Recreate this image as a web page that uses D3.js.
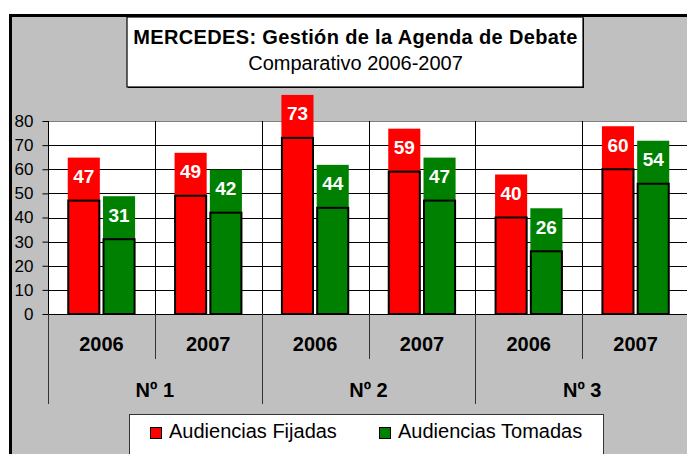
<!DOCTYPE html>
<html><head><meta charset="utf-8">
<script src="https://cdn.jsdelivr.net/npm/d3@7"></script>
<style>
html,body{margin:0;padding:0;background:#fff;overflow:hidden;}
svg{display:block;font-family:"Liberation Sans",Arial,sans-serif;}
</style></head>
<body>
<svg id="chart" width="687" height="454"></svg>
<script>
const titleText = "MERCEDES: Gestión de la Agenda de Debate";
const subtitleText = "Comparativo 2006-2007";
const years = ["2006","2007","2006","2007","2006","2007"];
const groups = ["Nº 1","Nº 2","Nº 3"];
const seriesNames = ["Audiencias Fijadas","Audiencias Tomadas"];
const seriesColors = ["#ff0000","#008000"];
const fijadas = [47,49,73,59,40,60];
const tomadas = [31,42,44,47,26,54];
const yTicks = [0,10,20,30,40,50,60,70,80];

const svg = d3.select("#chart");
const plot = {left:48, right:689, top:121, bottom:314};

// outer chart area
svg.append("rect").attr("x",10.5).attr("y",15.5).attr("width",700).attr("height",460)
  .attr("fill","#c0c0c0").attr("stroke","#000").attr("stroke-width",3);

// title box
svg.append("rect").attr("x",128).attr("y",18).attr("width",456).attr("height",70)
  .attr("fill","#000");
svg.append("rect").attr("x",127).attr("y",17).attr("width",456).attr("height",70)
  .attr("fill","#fff").attr("stroke","#000").attr("stroke-width",1.2);
svg.append("text").attr("x",355.5).attr("y",44).attr("text-anchor","middle")
  .attr("font-size",20).attr("font-weight","bold").attr("letter-spacing",0.35).text(titleText);
svg.append("text").attr("x",355.5).attr("y",70).attr("text-anchor","middle")
  .attr("font-size",20).text(subtitleText);

const cats = d3.range(years.length);
const x0 = d3.scaleBand().domain(cats).range([plot.left, plot.right]).padding(0);
const x1 = d3.scaleBand().domain([0,1]).range([0, x0.bandwidth()]).paddingInner(0.09).paddingOuter(0.56);
const y = d3.scaleLinear().domain([0,80]).range([plot.bottom, plot.top]);

// plot background
svg.append("rect").attr("x",plot.left).attr("y",plot.top).attr("width",plot.right-plot.left)
  .attr("height",plot.bottom-plot.top).attr("fill","#fff");

// horizontal gridlines
svg.append("g").selectAll("line").data(yTicks).join("line")
  .attr("x1",plot.left).attr("x2",plot.right)
  .attr("y1",d=>Math.round(y(d))+0.5).attr("y2",d=>Math.round(y(d))+0.5)
  .attr("stroke",d=>d===80?"#808080":"#000").attr("stroke-width",1);

// vertical category lines in plot
svg.append("g").selectAll("line").data(cats.slice(1)).join("line")
  .attr("x1",d=>Math.round(x0(d))+0.5).attr("x2",d=>Math.round(x0(d))+0.5)
  .attr("y1",plot.top).attr("y2",plot.bottom).attr("stroke","#000");

// y axis
const yAxis = svg.append("g").attr("transform",`translate(${plot.left+0.5},0)`)
  .call(d3.axisLeft(y).tickValues(yTicks).tickSize(6).tickPadding(9).tickFormat(d3.format("d")));
yAxis.select(".domain").attr("stroke","#000").attr("d",`M0,${plot.top}V${plot.bottom}`);
yAxis.selectAll(".tick line").attr("stroke","#000");
yAxis.selectAll(".tick text").attr("font-size",17).attr("fill","#000")
  .attr("font-family","'Liberation Sans',Arial,sans-serif");

// category axis: baseline
svg.append("line").attr("x1",plot.left).attr("x2",plot.right).attr("y1",plot.bottom+0.5).attr("y2",plot.bottom+0.5)
  .attr("stroke","#000");
// ticks between years and groups
const bounds = d3.range(years.length+1);
svg.append("g").selectAll("line").data(bounds).join("line")
  .attr("x1",d=>Math.round(d<years.length?x0(d):plot.right)+0.5)
  .attr("x2",d=>Math.round(d<years.length?x0(d):plot.right)+0.5)
  .attr("y1",plot.bottom).attr("y2",d=>d%2===0?404:359)
  .attr("stroke","#333").attr("stroke-width",1);

svg.append("g").selectAll("text").data(years).join("text")
  .attr("x",(d,i)=>x0(i)+x0.bandwidth()/2).attr("y",351).attr("text-anchor","middle")
  .attr("font-size",20).attr("font-weight","bold").text(d=>d);
svg.append("g").selectAll("text").data(groups).join("text")
  .attr("x",(d,i)=>x0(i*2)+x0.bandwidth()).attr("y",397).attr("text-anchor","middle")
  .attr("font-size",20).attr("font-weight","bold").text(d=>d);

// bars and labels
const seriesData = [fijadas, tomadas];
const barsG = svg.append("g");
seriesData.forEach((vals, s) => {
  const g = barsG.append("g");
  // label boxes
  g.selectAll("rect.lbl").data(vals).join("rect").attr("class","lbl")
    .attr("x",(d,i)=>x0(i)+x1(s)).attr("width",x1.bandwidth())
    .attr("y",d=>y(d)-43).attr("height",43).attr("fill",seriesColors[s]);
  g.selectAll("text").data(vals).join("text")
    .attr("x",(d,i)=>x0(i)+x1(s)+x1.bandwidth()/2).attr("y",d=>y(d)-24.5)
    .attr("dy","0.36em").attr("text-anchor","middle").attr("fill","#fff")
    .attr("font-size",19).attr("font-weight","bold").text(d=>d);
  g.selectAll("rect.bar").data(vals).join("rect").attr("class","bar")
    .attr("x",(d,i)=>x0(i)+x1(s)+0.5).attr("width",x1.bandwidth()-1)
    .attr("y",d=>y(d)).attr("height",d=>y(0)-y(d))
    .attr("fill",seriesColors[s]).attr("stroke","#000").attr("stroke-width",2);
});

// legend
const lg = svg.append("g");
lg.append("rect").attr("x",129.5).attr("y",414.5).attr("width",474).attr("height",50)
  .attr("fill","#fff").attr("stroke","#333").attr("stroke-width",1);
const legendX = [150, 379];
seriesNames.forEach((n,s)=>{
  lg.append("rect").attr("x",legendX[s]+0.5).attr("y",427.5).attr("width",11).attr("height",11)
    .attr("fill",seriesColors[s]).attr("stroke","#000").attr("stroke-width",1);
  lg.append("text").attr("x",legendX[s]+19).attr("y",438).attr("font-size",20).text(n);
});
</script>
</body></html>
